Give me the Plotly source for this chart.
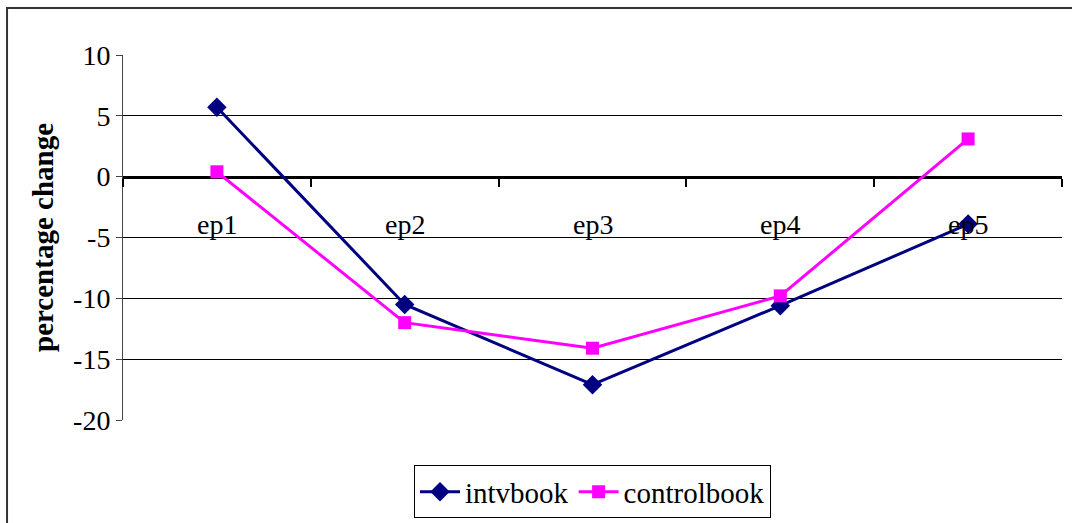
import plotly.graph_objects as go

categories = ["ep1", "ep2", "ep3", "ep4", "ep5"]
intvbook = [5.7, -10.5, -17.1, -10.6, -3.9]
controlbook = [0.4, -12.0, -14.1, -9.8, 3.1]
y_ticks = [10, 5, 0, -5, -10, -15, -20]

FONT = "Liberation Serif"
Y_MIN, Y_MAX = -20, 10
x_pos = list(range(len(categories)))

fig = go.Figure()
fig.add_trace(go.Scatter(
    x=x_pos, y=intvbook, name="intvbook", mode="lines+markers",
    line=dict(color="#000080", width=3),
    marker=dict(symbol="diamond", size=15, color="#000080"),
))
fig.add_trace(go.Scatter(
    x=x_pos, y=controlbook, name="controlbook", mode="lines+markers",
    line=dict(color="#FF00FF", width=3),
    marker=dict(symbol="square", size=13, color="#FF00FF"),
))

# category axis crosses the value axis at zero, ticks sit between categories
zero_frac = (0 - Y_MIN) / (Y_MAX - Y_MIN)
fig.update_xaxes(
    range=[-0.5, len(categories) - 0.5],
    anchor="free", position=zero_frac,
    showline=True, linecolor="black", linewidth=3,
    tickmode="array", tickvals=[i - 0.5 for i in range(len(categories) + 1)],
    ticks="outside", ticklen=8, tickwidth=2, tickcolor="black",
    showticklabels=False, showgrid=False, zeroline=False,
    layer="below traces", automargin=False,
)
fig.update_yaxes(
    range=[Y_MIN, Y_MAX],
    tickmode="array", tickvals=y_ticks, ticktext=[str(v) for v in y_ticks],
    ticks="outside", ticklen=6, tickcolor="#444", tickwidth=1,
    showline=True, linecolor="#444", linewidth=1,
    showgrid=True, gridcolor="black", gridwidth=1, zeroline=False,
    tickfont=dict(family=FONT, size=28, color="black"),
    title=dict(text="<b>percentage change</b>", standoff=10,
               font=dict(family=FONT, size=29, color="black")),
    layer="below traces", automargin=False,
)

annotations = [
    dict(x=i, y=0.535, xref="x", yref="paper", text=c, showarrow=False,
         font=dict(family=FONT, size=28, color="black"), yanchor="middle")
    for i, c in zip(x_pos, categories)
]

fig.update_layout(
    width=1072, height=523,
    font=dict(family=FONT, color="black"),
    margin=dict(l=123, r=10, t=55, b=103, autoexpand=False),
    paper_bgcolor="white", plot_bgcolor="white",
    showlegend=True,
    legend=dict(
        orientation="h", x=0.5, xanchor="center", y=-0.197, yanchor="middle",
        bordercolor="black", borderwidth=1, bgcolor="white",
        font=dict(family=FONT, size=29, color="black"),
        itemwidth=40, tracegroupgap=0,
    ),
    annotations=annotations,
    shapes=[dict(type="rect", xref="paper", yref="paper",
                 x0=-0.1235, y0=-1, x1=2, y1=1.1288,
                 line=dict(color="#333", width=2), layer="below")],
)

fig.write_html("out.html")
